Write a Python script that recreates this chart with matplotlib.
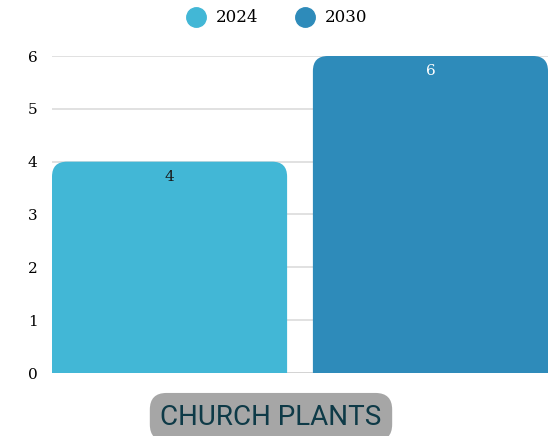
import matplotlib
matplotlib.use("Agg")
import matplotlib.pyplot as plt
from matplotlib.path import Path
from matplotlib.patches import PathPatch
from matplotlib.lines import Line2D
from matplotlib.transforms import IdentityTransform

# data
categoria = "CHURCH PLANTS"
anos = ["2024", "2030"]
valores = [4, 6]
cores = ["#42b7d6", "#2e8bba"]
cores_rotulo = ["#1a1a1a", "#ffffff"]
ticks_y = [0, 1, 2, 3, 4, 5, 6]

serif = "DejaVu Serif"

fig = plt.figure(figsize=(5.53, 4.36), dpi=100)
ax = fig.add_axes([52 / 553, 63 / 436, 496 / 553, 317 / 436])

largura = 0.474
posicoes = [-0.5 + largura / 2, 0.5 - largura / 2]
barras = ax.bar(posicoes, valores, width=largura, color=cores, zorder=2)

ax.set_xlim(-0.5, 0.5)
ax.set_ylim(0, 6)
ax.set_yticks(ticks_y)
ax.set_xticks([])
for s in ax.spines.values():
    s.set_visible(False)
ax.grid(axis="y", color="#dcdcdc", linewidth=1.2, zorder=0)
ax.axhline(0, color="#a0a0a0", linewidth=1.2, zorder=1)
ax.tick_params(axis="y", length=0, pad=14, labelsize=11)
for t in ax.get_yticklabels():
    t.set_fontfamily(serif)
    t.set_horizontalalignment("center")

# Arredonda os cantos superiores das barras (em pixels)
raio = 15
for b in barras:
    x0, y0 = ax.transData.transform((b.get_x(), 0))
    x1, y1 = ax.transData.transform((b.get_x() + b.get_width(), b.get_height()))
    verts = [(x0, y0), (x0, y1 - raio), (x0, y1), (x0 + raio, y1),
             (x1 - raio, y1), (x1, y1), (x1, y1 - raio), (x1, y0), (x0, y0)]
    codes = [Path.MOVETO, Path.LINETO, Path.CURVE3, Path.CURVE3,
             Path.LINETO, Path.CURVE3, Path.CURVE3, Path.LINETO, Path.CLOSEPOLY]
    patch = PathPatch(Path(verts, codes), facecolor=b.get_facecolor(),
                      edgecolor="none", zorder=2)
    ax.add_artist(patch)
    patch.set_transform(IdentityTransform())
    patch.set_clip_on(False)
    b.set_visible(False)

# Rótulos dos valores
for b, v, c in zip(barras, valores, cores_rotulo):
    ax.annotate(str(v), (b.get_x() + b.get_width() / 2, v), xytext=(0, -6),
                textcoords="offset points", ha="center", va="top",
                fontsize=11, fontfamily=serif, color=c, zorder=3)

# Legenda
handles = [Line2D([], [], marker="o", linestyle="", markersize=14,
                  markerfacecolor=c, markeredgecolor=c) for c in cores]
fig.legend(handles, anos, loc="center", bbox_to_anchor=(0.5, 1 - 18 / 436),
           ncol=2, frameon=False, prop={"family": serif, "size": 12},
           handletextpad=0.6, columnspacing=2.2, handlelength=1.2)

# Título da categoria em caixa cinza
fig.text(271 / 553, 1 - 417 / 436, categoria, ha="center", va="center",
         fontsize=20, fontfamily="Roboto", color="#0e3a47",
         bbox=dict(boxstyle="round,pad=0.38,rounding_size=0.6",
                   facecolor="#a6a6a6", edgecolor="none"))

fig.savefig("out.png", dpi=100)
